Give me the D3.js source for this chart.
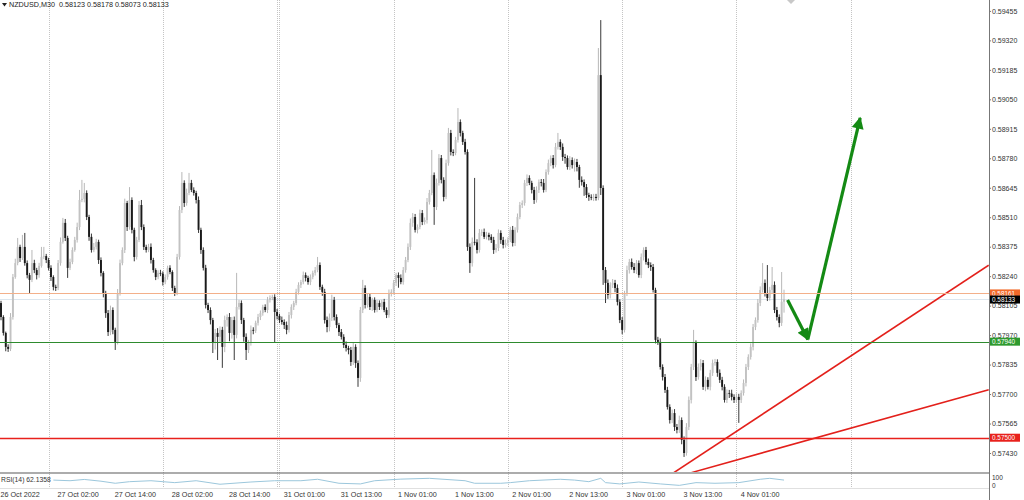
<!DOCTYPE html>
<html>
<head>
<meta charset="utf-8">
<script src="https://cdn.jsdelivr.net/npm/d3@7"></script>
<style>
  body { margin: 0; background: #fff; }
  text { font-family: "Liberation Sans", Arial, sans-serif; }
</style>
</head>
<body>
<div id="chart"></div>
<script>
// NZDUSD M30 candles, prices in points (1e-5)
var firstOpen = 58117;
var closes = [
  58053,57980,57916,57907,58053,58236,58300,58374,58323,58374,
  58300,58245,58223,58300,58268,58245,58287,58328,58332,58314,
  58278,58236,58191,58186,58300,58397,58484,58415,58278,58305,
  58360,58406,58465,58589,58594,58621,58511,58420,58360,58374,
  58397,58314,58255,58163,58071,57984,58085,57994,57939,58163,
  58300,58360,58575,58465,58589,58452,58328,58406,58566,58465,
  58374,58360,58374,58314,58268,58236,58255,58252,58213,58236,
  58278,58259,58186,58163,58328,58543,58667,58575,58621,58667,
  58635,58621,58589,58452,58360,58278,58108,58085,58039,57934,
  57980,57962,57994,57916,58039,58053,57980,58039,57971,58099,
  58117,58039,57962,57902,57934,57994,57990,58026,58053,58071,
  58099,58085,58131,58140,58145,58076,58058,58039,58030,58016,
  57994,58062,58099,58117,58168,58200,58213,58245,58232,58213,
  58236,58255,58268,58291,58191,58168,58039,58007,58049,58131,
  58053,58016,57984,57962,57925,57911,57902,57847,57916,57842,
  57774,58085,58186,58108,58145,58099,58131,58085,58117,58099,
  58122,58085,58062,58163,58168,58209,58245,58232,58213,58268,
  58314,58374,58484,58511,58452,58465,58529,58488,58497,58580,
  58621,58703,58557,58667,58781,58681,58603,58758,58896,58809,
  58804,58864,58946,58896,58855,58809,58374,58300,58397,58395,
  58360,58438,58442,58420,58429,58420,58406,58360,58369,58438,
  58406,58383,58392,58406,58452,58392,58452,58511,58566,58575,
  58667,58690,58667,58635,58589,58635,58671,58667,58635,58717,
  58758,58781,58749,58832,58855,58832,58786,58781,58740,58772,
  58749,58763,58740,58681,58671,58648,58612,58603,58600,58603,
  58598,59161,58644,58268,58209,58154,58200,58209,58186,58122,
  58039,57994,58163,58268,58305,58282,58268,58300,58245,58328,
  58360,58305,58291,58282,58177,57948,57939,57824,57778,57719,
  57641,57581,57613,57549,57536,57581,57490,57430,57549,57673,
  57824,57934,57778,57824,57842,57733,57765,57733,57797,57842,
  57847,57797,57765,57733,57673,57705,57702,57687,57673,57687,
  57673,57705,57751,57824,57870,57916,58007,58039,58117,58177,
  58209,58163,58140,58177,58200,58085,58053,58026,58123,58133
];
// wick lengths above / below the body, points
var wickUp = [
  10,8,6,12,18,14,20,41,10,55, 64,12,10,60,15,10,14,46,42,10,
  10,12,8,10,14,20,23,18,10,15, 12,14,20,46,87,46,12,10,15,18,
  14,10,12,8,10,14,20,12,10,18, 16,12,20,10,59,12,10,14,18,23,
  12,10,14,16,10,8,12,14,10,12, 10,12,8,10,14,18,50,12,20,46,
  14,12,10,16,10,12,14,10,12,10, 18,22,16,14,20,12,18,14,16,156,
  14,12,10,16,14,20,12,10,14,12, 10,12,14,12,10,12,14,10,16,12,
  16,14,12,10,14,12,10,16,12,10, 12,10,14,37,12,10,14,16,20,24,
  14,12,10,14,12,16,10,14,20,12, 12,14,37,12,16,14,10,12,14,12,
  10,14,12,16,12,14,10,12,16,14, 14,16,20,18,14,12,16,14,12,18,
  14,115,12,20,18,14,12,16,23,14, 12,14,64,12,10,14,12,16,20,293,
  14,18,12,16,14,10,12,14,18,16, 12,14,16,12,14,18,12,16,14,12,
  14,16,12,10,14,16,12,14,18,12, 16,12,14,18,41,12,16,14,12,18,
  12,16,14,10,16,12,14,10,12,14, 14,124,252,12,14,16,12,18,14,16,
  12,14,10,20,14,16,18,14,12,16, 12,14,16,12,14,10,14,16,12,14,
  14,12,16,18,14,20,12,16,18,16, 14,60,12,16,18,14,16,12,14,16,
  14,12,16,14,12,16,14,18,12,16, 14,12,16,14,12,16,14,12,18,16,
  91,16,128,14,82,16,14,12,136,45
];
var wickDn = [
  15,12,20,14,10,12,8,10,18,9, 12,15,60,10,14,20,12,8,10,14,
  12,18,16,14,10,12,8,14,46,10, 10,8,12,14,10,16,14,18,12,10,
  12,18,16,20,22,18,14,20,37,12, 12,10,14,18,12,16,20,12,10,14,
  14,12,10,16,12,14,10,12,16,10, 12,10,14,14,10,12,14,18,12,10,
  10,12,16,14,18,12,16,14,20,46, 30,106,28,96,24,30,38,26,115,16,
  12,18,22,46,14,12,16,10,12,14, 12,10,14,12,10,140,16,14,12,18,
  20,12,16,14,10,12,14,10,16,12, 14,10,12,10,14,18,16,24,20,14,
  16,14,18,12,14,16,20,18,14,22, 41,18,14,16,12,14,18,12,10,14,
  12,10,14,12,16,12,14,45,10,12, 12,10,14,18,12,16,10,14,12,16,
  12,10,82,14,12,16,20,10,12,16, 14,10,12,16,14,12,18,45,16,14,
  16,12,14,10,12,16,14,18,12,14, 18,16,12,14,10,16,14,12,10,14,
  12,14,10,16,18,12,14,16,12,10, 12,14,16,10,12,14,18,26,12,14,
  16,30,20,36,16,40,14,18,12,16, 12,10,32,68,92,18,16,14,20,16,
  14,20,12,14,16,12,14,18,12,14, 16,12,14,18,12,16,14,12,16,14,
  12,16,14,18,16,14,20,18,12,14, 16,14,18,12,16,14,20,12,16,14,
  12,18,14,16,12,14,20,16,14,12, 105,14,12,16,14,12,16,14,12,14,
  12,16,14,12,18,14,16,20,14,50
];

// RSI(14) sub window, sampled along the bars
var rsiBars = [22,29,35,42,48,54,63,73,82,92,105,115,126,133,142,151,157,168,180,195,199,210,214,222,235,241,247,252,254,260,268,277,285,292,300,310,319,323,329];
var rsiValues = [62,58,66,55,42,52,58,46,58,36,50,58,58,67,42,38,58,68,73,58,42,42,46,58,67,62,52,73,46,38,50,38,29,46,42,46,67,73,62];

var priceTicks = [0.59455,0.59320,0.59185,0.59050,0.58915,0.58780,0.58645,0.58510,0.58375,0.58240,0.58105,0.57970,0.57835,0.57700,0.57565,0.57430];
var timeBars = [0,24,48,72,96,119,143,167,191,215,239,263,287,311];
var timeLabels = ["26 Oct 2022","27 Oct 02:00","27 Oct 14:00","28 Oct 02:00","28 Oct 14:00","31 Oct 01:00","31 Oct 13:00","1 Nov 01:00","1 Nov 13:00","2 Nov 01:00","2 Nov 13:00","3 Nov 01:00","3 Nov 13:00","4 Nov 01:00"];
var daySeparators = [20,68,116,117,165,213,261,309,357];

// horizontal levels
var levelPrice = [0.58161, 0.57940, 0.57500];
var levelColor = ["#f3b08a", "#2e8b2e", "#e8211c"];
var levelBox = ["#f26a2a", "#2e9a2e", "#e8211c"];
var bidPrice = 0.58133;

// trend lines: [bar, price] pairs
var trendLines = [
  [[282, 0.57335], [415, 0.58290]],
  [[290, 0.57340], [415, 0.57720]]
];
// the two green arrows
var arrows = [
  [[330.5, 0.58131], [339, 0.57950]],
  [[339, 0.57950], [361, 0.58965]]
];

var width = 1024, height = 500;
var plotW = 989, plotH = 472;

var svg = d3.select("#chart").append("svg")
  .attr("width", width).attr("height", height)
  .style("display", "block");

var x = d3.scaleLinear().domain([0, 400]).range([1, 953]);
var y = d3.scaleLinear().domain([0.57343, 0.59505]).range([plotH, 0]);
var rsiY = d3.scaleLinear().domain([0, 100]).range([490, 474]);

var candles = closes.map(function (c, i) {
  var o = i == 0 ? firstOpen : closes[i - 1];
  return {
    i: i,
    open: o / 1e5,
    close: c / 1e5,
    high: (Math.max(o, c) + wickUp[i]) / 1e5,
    low: (Math.min(o, c) - wickDn[i]) / 1e5
  };
});

var defs = svg.append("defs");
defs.append("clipPath").attr("id", "plot")
  .append("rect").attr("width", plotW).attr("height", plotH);
defs.append("marker").attr("id", "head")
  .attr("viewBox", "0 0 10 10").attr("refX", 9).attr("refY", 5)
  .attr("markerUnits", "userSpaceOnUse")
  .attr("markerWidth", 13).attr("markerHeight", 12)
  .attr("orient", "auto")
  .append("path").attr("d", "M0,0 L10,5 L0,10 z").attr("fill", "#148a14");

// day separators
svg.append("g").selectAll("line")
  .data(daySeparators).enter().append("line")
  .attr("x1", function (d) { return Math.round(x(d)) + 0.5; })
  .attr("x2", function (d) { return Math.round(x(d)) + 0.5; })
  .attr("y1", 0).attr("y2", 488)
  .attr("stroke", "#c4c4c4").attr("stroke-dasharray", "1,1");

var plot = svg.append("g").attr("clip-path", "url(#plot)");

// bid line and levels
plot.append("line")
  .attr("x1", 0).attr("x2", plotW)
  .attr("y1", y(bidPrice)).attr("y2", y(bidPrice))
  .attr("stroke", "#dce6ee");
svg.append("g").selectAll("line")
  .data(levelPrice).enter().append("line")
  .attr("x1", 0).attr("x2", plotW)
  .attr("y1", function (d) { return Math.round(y(d)) + 0.5; })
  .attr("y2", function (d) { return Math.round(y(d)) + 0.5; })
  .attr("stroke", function (d, i) { return levelColor[i]; })
  .attr("stroke-width", function (d, i) { return i == 2 ? 1.4 : 1; });

// candles
var bw = 1.9;
var c = plot.append("g").selectAll("g")
  .data(candles).enter().append("g");
c.append("line")
  .attr("x1", function (d) { return x(d.i); })
  .attr("x2", function (d) { return x(d.i); })
  .attr("y1", function (d) { return y(d.high); })
  .attr("y2", function (d) { return y(d.low); })
  .attr("stroke", function (d) { return d.close >= d.open ? "#b0b0b0" : "#222"; })
  .attr("stroke-width", 0.9);
c.append("rect")
  .attr("x", function (d) { return x(d.i) - bw / 2; })
  .attr("width", bw)
  .attr("y", function (d) { return y(Math.max(d.open, d.close)); })
  .attr("height", function (d) { return Math.max(0.8, Math.abs(y(d.open) - y(d.close))); })
  .attr("fill", function (d) { return d.close >= d.open ? "#c2c2c2" : "#1a1a1a"; });

// trend lines
plot.selectAll(".trend")
  .data(trendLines).enter().append("line")
  .attr("x1", function (d) { return x(d[0][0]); })
  .attr("y1", function (d) { return y(d[0][1]); })
  .attr("x2", function (d) { return x(d[1][0]); })
  .attr("y2", function (d) { return y(d[1][1]); })
  .attr("stroke", "#e3201b").attr("stroke-width", 1.6);

// arrows
plot.selectAll(".arrow")
  .data(arrows).enter().append("line")
  .attr("x1", function (d) { return x(d[0][0]); })
  .attr("y1", function (d) { return y(d[0][1]); })
  .attr("x2", function (d) { return x(d[1][0]); })
  .attr("y2", function (d) { return y(d[1][1]); })
  .attr("stroke", "#148a14").attr("stroke-width", 3.2)
  .attr("marker-end", "url(#head)");

// sub window frame
svg.append("line").attr("x1", 0).attr("x2", plotW)
  .attr("y1", 473).attr("y2", 473).attr("stroke", "#5a5a5a").attr("stroke-width", 1.2);
svg.append("line").attr("x1", 0).attr("x2", plotW)
  .attr("y1", 488.5).attr("y2", 488.5).attr("stroke", "#e0e0e0");

// RSI
svg.append("path")
  .datum(rsiBars)
  .attr("d", d3.line()
    .x(function (d) { return x(d); })
    .y(function (d, i) { return rsiY(rsiValues[i]); }))
  .attr("fill", "none").attr("stroke", "#9cc7dc").attr("stroke-width", 1);
svg.append("text").attr("x", 1).attr("y", 481.5)
  .attr("font-size", "6.8px").attr("fill", "#333")
  .text("RSI(14) 62.1358");

// right price axis
svg.append("line").attr("x1", plotW + 0.5).attr("x2", plotW + 0.5)
  .attr("y1", 0).attr("y2", height).attr("stroke", "#777");
var yAxis = svg.append("g")
  .attr("transform", "translate(" + plotW + ",0)")
  .call(d3.axisRight(y).tickValues(priceTicks).tickSize(2).tickPadding(1)
    .tickFormat(d3.format(".5f")));
yAxis.select(".domain").remove();
yAxis.selectAll("line").attr("stroke", "#777");
yAxis.selectAll("text").attr("font-size", "7px").attr("fill", "#333")
  .attr("font-family", "Liberation Sans, Arial, sans-serif");

// price boxes
var boxes = [
  { p: levelPrice[0], fill: levelBox[0] },
  { p: bidPrice, fill: "#000" },
  { p: levelPrice[1], fill: levelBox[1] },
  { p: levelPrice[2], fill: levelBox[2] }
];
var bx = svg.append("g").selectAll("g").data(boxes).enter().append("g");
bx.append("rect")
  .attr("x", plotW + 1).attr("width", 30)
  .attr("y", function (d) { return y(d.p) - 4; }).attr("height", 8)
  .attr("fill", function (d) { return d.fill; });
bx.append("text")
  .attr("x", plotW + 3).attr("y", function (d) { return y(d.p) + 2.3; })
  .attr("font-size", "6.4px").attr("fill", "#fff")
  .text(function (d) { return d3.format(".5f")(d.p); });

// RSI scale labels: 100 and 0 only, kept apart
var rsiLbl = [["100", 477.5], ["0", 485.5]];
svg.append("g").selectAll("text").data(rsiLbl).enter().append("text")
  .attr("x", plotW + 3).attr("y", function (d) { return d[1] + 2.4; })
  .attr("font-size", "6.5px").attr("fill", "#333")
  .text(function (d) { return d[0]; });

// time axis
var xAxis = svg.append("g")
  .attr("transform", "translate(0,488)")
  .call(d3.axisBottom(x).tickValues(timeBars).tickSize(0)
    .tickFormat(function (d, i) { return timeLabels[i]; }));
xAxis.select(".domain").remove();
xAxis.selectAll("text")
  .attr("y", 3.5).attr("dx", -1)
  .attr("text-anchor", "start")
  .attr("font-size", "7.2px").attr("fill", "#333")
  .attr("font-family", "Liberation Sans, Arial, sans-serif");

// title
var last = candles[candles.length - 1];
var f5 = d3.format(".5f");
svg.append("path").attr("d", "M2,3 L7,3 L4.5,6.5 z").attr("fill", "#222");
svg.append("text").attr("x", 9).attr("y", 7)
  .attr("font-size", "7.2px").attr("fill", "#222")
  .attr("xml:space", "preserve")
  .text("NZDUSD,M30  " + f5(last.open) + " " + f5(last.high) + " " + f5(last.low) + " " + f5(last.close));

// shift marker at the top
svg.append("path").attr("d", "M787,0 L795,0 L791,4 z").attr("fill", "#c8c8c8");
</script>
</body>
</html>
